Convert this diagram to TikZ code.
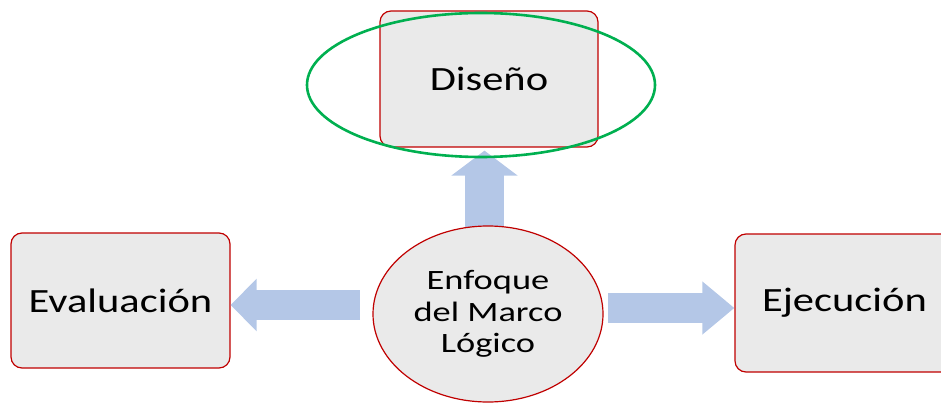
\documentclass[tikz,border=0pt]{standalone}
\usepackage{fontspec}
\setmainfont{Carlito}
\usetikzlibrary{arrows.meta,shapes.geometric}
\definecolor{boxfill}{HTML}{EAEAEA}
\definecolor{boxline}{HTML}{C00000}
\definecolor{arrowblue}{HTML}{B4C7E7}
\definecolor{hlgreen}{HTML}{00B050}
\newcommand{\wide}[1]{\scalebox{1.25}[1]{#1}}
\newcommand{\widehub}[1]{\scalebox{1.3}[1]{#1}}
\tikzset{
  stepbox/.style={draw=boxline, line width=1.2pt, fill=boxfill, rounded corners=11pt,
    inner sep=0pt, font=\fontsize{34}{40}\selectfont},
  hub/.style={ellipse, draw=boxline, line width=1.2pt, fill=boxfill, inner sep=0pt,
    minimum width=230pt, minimum height=176pt, align=center,
    font=\fontsize{28}{31.5}\selectfont},
  blk/.style={draw=arrowblue, line width=30pt, -{Triangle[length=32pt,width=51pt]}},
  blkv/.style={draw=arrowblue, line width=39pt, -{Triangle[length=25pt,width=65pt]}},
}
\begin{document}
\begin{tikzpicture}[x=1pt,y=-1pt]
\clip (0,0) rectangle (941,403);
% boxes
\node[stepbox, minimum width=218pt, minimum height=136pt] (dis) at (489,79) {\wide{Diseño}};
\node[stepbox, minimum width=219pt, minimum height=135pt] (eva) at (120.5,300.5) {\wide{Evaluación}};
\node[stepbox, minimum width=219pt, minimum height=138pt] (eje) at (844.5,303) {\wide{Ejecución}};
% connectors (drawn before hub so it overlays)
\coordinate (uS) at (484.5,232);
\coordinate (lS) at (360,305);
\coordinate (rS) at (608,308);
\draw[blkv, shorten >=3pt] (uS) -- (uS |- dis.south);
\draw[blk, -{Triangle[length=26pt,width=51pt]}] (lS) -- (lS -| eva.east);
\draw[blk] (rS) -- (rS -| eje.west);
% hub
\node[hub] (enf) at (488,314) {\widehub{Enfoque}\\\widehub{del Marco}\\\widehub{Lógico}};
% green highlight
\draw[hlgreen, line width=2.6pt] (481,85) ellipse [x radius=174pt, y radius=72pt];
\end{tikzpicture}
\end{document}
